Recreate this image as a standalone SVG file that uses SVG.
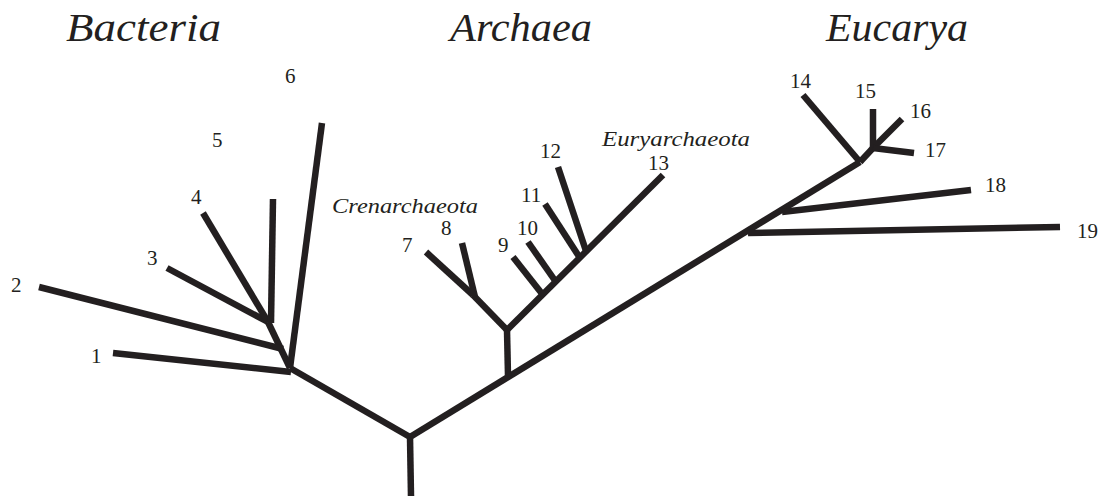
<svg xmlns="http://www.w3.org/2000/svg" width="1101" height="496" viewBox="0 0 1101 496">
<style>
.br{fill:none;stroke:#231f20;stroke-width:6.5;stroke-linecap:butt;stroke-linejoin:miter}
text{font-family:'Liberation Serif','DejaVu Serif',serif;fill:#231f20}
.n{font-size:21px}
.i{font-style:italic;font-size:21px}
.t{font-style:italic;font-size:41px}
</style>
<rect width="1101" height="496" fill="#ffffff"/>
<g id="titles">
<text class="t" x="66" y="41" textLength="155" lengthAdjust="spacingAndGlyphs">Bacteria</text>
<text class="t" x="450" y="41" textLength="142" lengthAdjust="spacingAndGlyphs">Archaea</text>
<text class="t" x="826" y="41" textLength="142" lengthAdjust="spacingAndGlyphs">Eucarya</text>
</g>
<g id="connectors">
<path class="br" d="M411,496 L410,437"/>
<path class="br" d="M410,437 L290,368"/>
<path class="br" d="M410,437 L860,162"/>
<path class="br" d="M291,372 L113,353"/>
<path class="br" d="M290,368 L268,322"/>
<path class="br" d="M283,349 L39,287"/>
<path class="br" d="M290,368 L322,123"/>
<path class="br" d="M268,322 L167,268"/>
<path class="br" d="M268,322 L203,213"/>
<path class="br" d="M271,323 L273,199"/>
<path class="br" d="M508,376 L507,330"/>
<path class="br" d="M507,330 L473,295"/>
<path class="br" d="M473,295 L426,252"/>
<path class="br" d="M475,297 L462,243"/>
<path class="br" d="M507,330 L663,175"/>
<path class="br" d="M543,295 L513,257"/>
<path class="br" d="M556,282 L528,242"/>
<path class="br" d="M580,258 L545,204"/>
<path class="br" d="M586,251 L558,167"/>
<path class="br" d="M748,233 L1060,227"/>
<path class="br" d="M782,212 L971,190"/>
<path class="br" d="M860,162 L803,95"/>
<path class="br" d="M860,162 L873,148"/>
<path class="br" d="M873,150 L873,109"/>
<path class="br" d="M873,148 L902,119"/>
<path class="br" d="M873,148 L914,153"/>
</g>
<g id="node-1"><text class="n" x="91" y="363">1</text></g>
<g id="node-2"><text class="n" x="11" y="292">2</text></g>
<g id="node-3"><text class="n" x="147" y="265">3</text></g>
<g id="node-4"><text class="n" x="191" y="204">4</text></g>
<g id="node-5"><text class="n" x="212" y="147">5</text></g>
<g id="node-6"><text class="n" x="285" y="83">6</text></g>
<g id="node-7"><text class="n" x="402" y="252">7</text></g>
<g id="node-8"><text class="n" x="441" y="235">8</text></g>
<g id="node-9"><text class="n" x="498" y="252">9</text></g>
<g id="node-10"><text class="n" x="517" y="235">10</text></g>
<g id="node-11"><text class="n" x="521" y="202">11</text></g>
<g id="node-12"><text class="n" x="540" y="158">12</text></g>
<g id="node-13"><text class="n" x="648" y="170">13</text></g>
<g id="node-14"><text class="n" x="790" y="88">14</text></g>
<g id="node-15"><text class="n" x="855" y="98">15</text></g>
<g id="node-16"><text class="n" x="910" y="118">16</text></g>
<g id="node-17"><text class="n" x="925" y="157">17</text></g>
<g id="node-18"><text class="n" x="985" y="192">18</text></g>
<g id="node-19"><text class="n" x="1077" y="238">19</text></g>
<g id="clade-crenarchaeota"><text class="i" x="332" y="213" textLength="146" lengthAdjust="spacingAndGlyphs">Crenarchaeota</text></g>
<g id="clade-euryarchaeota"><text class="i" x="602" y="146" textLength="148" lengthAdjust="spacingAndGlyphs">Euryarchaeota</text></g>
</svg>
